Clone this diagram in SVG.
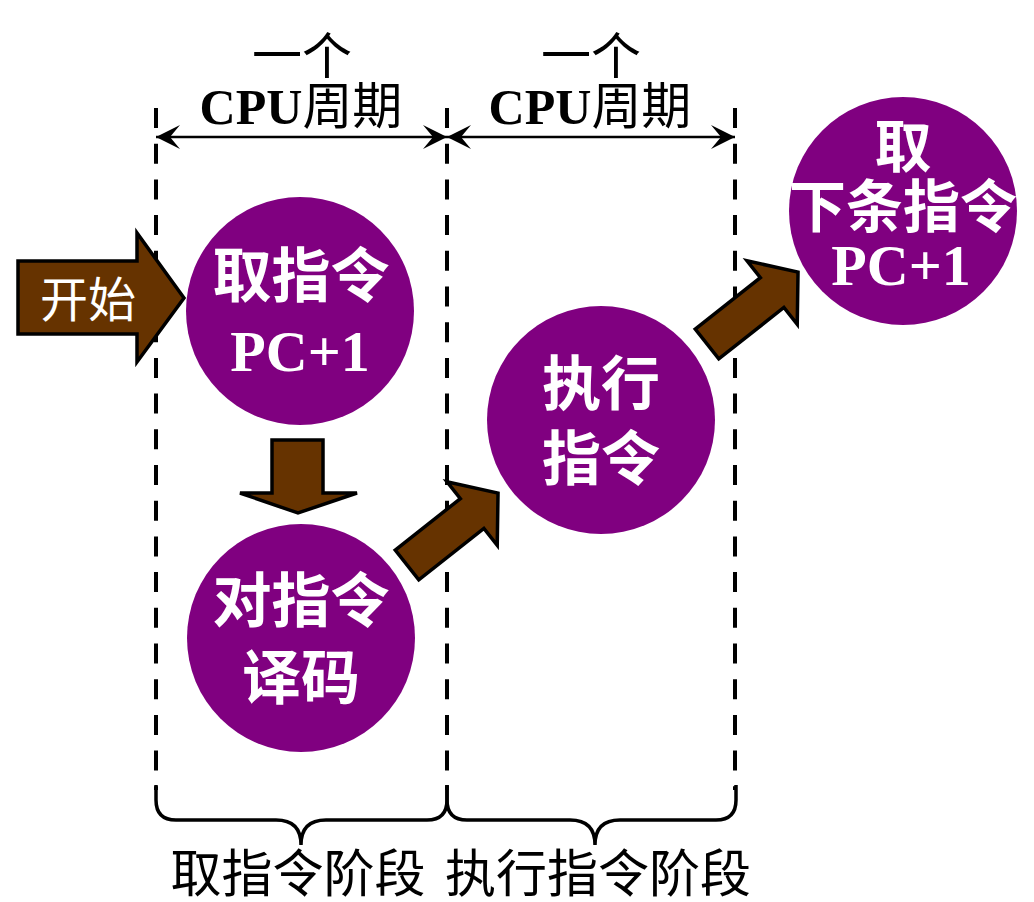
<svg xmlns="http://www.w3.org/2000/svg" width="1034" height="902" viewBox="0 0 1034 902">
<style>
.node{fill:#800080}
.nt{fill:#fff;font-family:"Liberation Serif","Noto Sans CJK SC",serif;font-weight:bold;text-anchor:middle}
.cn{font-size:59px}
.pc{font-size:58px}
.blk{fill:#663300;stroke:#000;stroke-width:3.5;stroke-linejoin:miter}
.dash{stroke:#000;stroke-width:4;stroke-dasharray:20 15.7;fill:none}
.dim{stroke:#000;stroke-width:2.5;fill:none;marker-start:url(#ah);marker-end:url(#ah)}
.brace{stroke:#000;stroke-width:3.5;fill:none}
.lbl{font-family:"Liberation Serif","Noto Sans CJK SC",serif;fill:#000;text-anchor:middle}
</style>
<defs>
<marker id="ah" viewBox="0 0 26 26" refX="25" refY="13" markerWidth="26" markerHeight="26" markerUnits="userSpaceOnUse" orient="auto-start-reverse">
<path d="M25,13 L1,1 L11,13 L1,25 Z" fill="#000"/>
</marker>
</defs>
<rect width="1034" height="902" fill="#fff"/>

<g id="guides">
<line class="dash" x1="156" y1="108" x2="156" y2="790"/>
<line class="dash" x1="447" y1="108" x2="447" y2="790"/>
<line class="dash" x1="735" y1="108" x2="735" y2="790"/>
<line class="dim" x1="156" y1="137" x2="447" y2="137"/>
<line class="dim" x1="447" y1="137" x2="735" y2="137"/>
<text class="lbl" x="302" y="74" font-size="50">一个</text>
<text class="lbl" x="301" y="124" font-size="50"><tspan font-weight="bold">CPU</tspan>周期</text>
<text class="lbl" x="591" y="74" font-size="50">一个</text>
<text class="lbl" x="590" y="124" font-size="50"><tspan font-weight="bold">CPU</tspan>周期</text>
<path class="brace" d="M156,785 L156,800 Q156,820 176,820 L276,820 Q301,820 301,845 Q301,820 326,820 L427,820 Q447,820 447,800 L447,785"/>
<path class="brace" d="M447,785 L447,800 Q447,820 467,820 L570,820 Q595,820 595,845 Q595,820 620,820 L716,820 Q736,820 736,800 L736,785"/>
<text class="lbl" x="298" y="892" font-size="51">取指令阶段</text>
<text class="lbl" x="598" y="892" font-size="51">执行指令阶段</text>
</g>

<g id="connectors">
<path class="blk" d="M18,261 L137,261 L137,233 L184,298 L137,362 L137,334 L18,334 Z"/>
<path class="blk" d="M272,440 L323,440 L323,493 L357,493 L298,513 L240,493 L272,493 Z"/>
<path class="blk" transform="translate(407,565) rotate(-38.3)" d="M0,-19 L83,-19 L83,-40.5 L116,0 L83,40.5 L83,19 L0,19 Z"/>
<path class="blk" transform="translate(707,344) rotate(-38.3)" d="M0,-19 L83,-19 L83,-40.5 L116,0 L83,40.5 L83,19 L0,19 Z"/>
</g>

<g id="start">
<text x="88" y="317" font-size="48" fill="#fff" text-anchor="middle" font-family="Liberation Serif,Noto Sans CJK SC,serif">开始</text>
</g>

<g id="n1">
<circle class="node" cx="300" cy="311" r="114"/>
<text class="nt cn" x="301" y="297">取指令</text>
<text class="nt pc" x="300" y="371">PC+1</text>
</g>

<g id="n2">
<circle class="node" cx="301" cy="638" r="114"/>
<text class="nt cn" x="301" y="622">对指令</text>
<text class="nt cn" x="301" y="699">译码</text>
</g>

<g id="n3">
<circle class="node" cx="601" cy="420" r="114"/>
<text class="nt cn" x="601" y="405">执行</text>
<text class="nt cn" x="601" y="480">指令</text>
</g>

<g id="n4">
<circle class="node" cx="903" cy="211" r="114"/>
<text class="nt" x="903" y="167" font-size="57">取</text>
<text class="nt" x="903" y="227" font-size="57">下条指令</text>
<text class="nt pc" x="901" y="285">PC+1</text>
</g>
</svg>
